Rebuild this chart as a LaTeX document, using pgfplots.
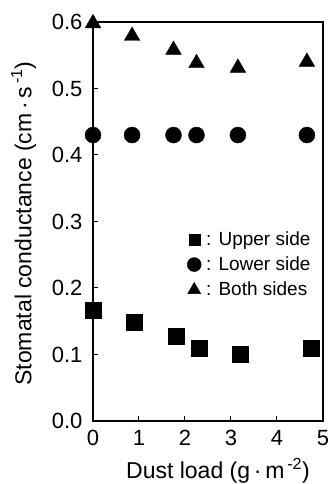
\documentclass[border=0pt]{standalone}
\usepackage{pgfplots}
\pgfplotsset{compat=1.18}
\usepackage{fontspec}
\setmainfont{Liberation Sans}
\begin{document}
\begin{tikzpicture}
\begin{axis}[
  scale only axis,
  width=230pt, height=399pt,
  xmin=0, xmax=5, ymin=0, ymax=0.6,
  xtick={0,1,2,3,4,5},
  ytick={0,0.1,0.2,0.3,0.4,0.5,0.6},
  tick pos=left, tick align=inside,
  major tick length=5pt,
  axis line style={line width=1.3pt},
  every tick/.style={line width=1pt, black},
  /pgf/number format/assume math mode=true,
  yticklabel style={/pgf/number format/fixed, /pgf/number format/fixed zerofill, /pgf/number format/precision=1, xshift=-7pt},
  xticklabel style={yshift=-6pt},
  tick label style={font=\fontsize{22}{24}\selectfont},
  label style={font=\fontsize{23}{25}\selectfont},
  xlabel={Dust load (g\,·\,m\textsuperscript{\,-2})},
  ylabel={Stomatal conductance (cm\,·\,s\textsuperscript{\,-1})},
  xlabel style={yshift=-5pt, xshift=10pt},
  ylabel style={yshift=9pt, xshift=-2pt},
  clip=false,
  legend style={draw=none, fill=none, at={(0.955,0.48)}, anchor=north east, font=\fontsize{19}{21}\selectfont, row sep=6pt, column sep=3pt, inner sep=0pt},
  legend cell align=left,
  legend image code/.code={\draw[#1] plot coordinates {(0pt,0pt)};},
]
\addplot[only marks, mark=square*, mark size=8pt, black, legend image post style={mark size=5.5pt}] coordinates {
(0,0.167) (0.9,0.148) (1.8,0.128) (2.3,0.110) (3.2,0.101) (4.75,0.110)};
\addlegendentry{: Upper side}
\addplot[only marks, mark=*, mark size=8pt, black, legend image post style={mark size=7pt}] coordinates {
(0,0.43) (0.85,0.43) (1.75,0.43) (2.25,0.43) (3.15,0.43) (4.65,0.43)};
\addlegendentry{: Lower side}
\addplot[only marks, mark=triangle*, mark size=9pt, black, legend image post style={mark size=7.5pt}] coordinates {
(0,0.598) (0.85,0.579) (1.75,0.558) (2.25,0.538) (3.15,0.531) (4.65,0.540)};
\addlegendentry{: Both sides}
\end{axis}
\pgfresetboundingbox
\path[use as bounding box] (-93pt,-63pt) rectangle (236pt,421pt);
\end{tikzpicture}
\end{document}
